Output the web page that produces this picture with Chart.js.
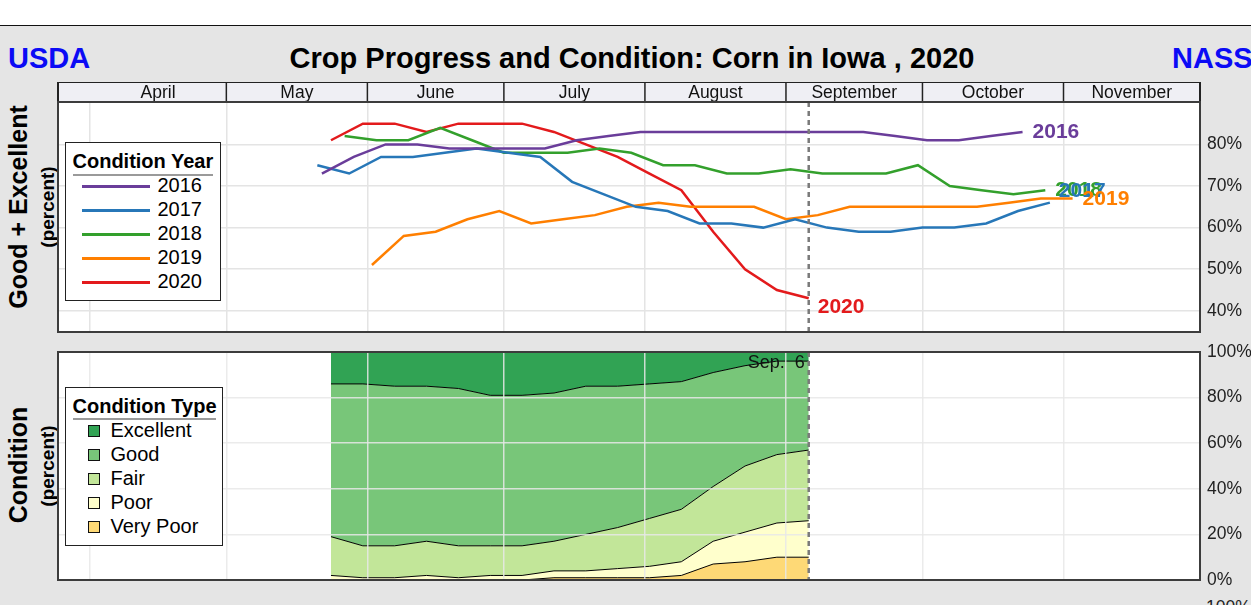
<!DOCTYPE html>
<html>
<head>
<meta charset="utf-8">
<title>Crop Progress and Condition: Corn in Iowa , 2020</title>
<script src="https://cdn.jsdelivr.net/npm/chart.js@4.4.1/dist/chart.umd.min.js"></script>
<style>
  html, body { margin: 0; padding: 0; }
  body { width: 1251px; height: 605px; overflow: hidden; position: relative; background: #e5e5e5;
         font-family: "Liberation Sans", Arial, sans-serif; color: #000; }
  .abs { position: absolute; white-space: nowrap; }
  #whiteband { left: 0; top: 0; width: 1251px; height: 25px; background: #fff; border-bottom: 1.5px solid #111; }
  .head { font-weight: bold; font-size: 29px; line-height: 29px; top: 43.5px; }
  .blue { color: #0b0bf5; }
  .vtitle { transform: translate(-50%, -50%) rotate(-90deg); font-weight: bold; }
  .legend { background: #fff; border: 1.5px solid #222; box-sizing: border-box; }
  .legend .ttl { font-weight: bold; font-size: 20px; line-height: 20px; }
  .legend .rule { height: 2px; background: #9a9a9a; }
  .legend .lbl { font-size: 20px; line-height: 20px; }
  canvas { position: absolute; left: 0; }
</style>
</head>
<body>
<div class="abs" id="whiteband"></div>
<div class="abs head blue" style="left:8px;">USDA</div>
<div class="abs head" style="left:0; width:1264px; text-align:center;">Crop Progress and Condition: Corn in Iowa , 2020</div>
<div class="abs head blue" style="left:1172px;">NASS</div>

<div class="abs vtitle" style="left:18px; top:207px; font-size:25px; line-height:25px;">Good + Excellent</div>
<div class="abs vtitle" style="left:47px; top:207px; font-size:19px; line-height:19px;">(percent)</div>
<div class="abs vtitle" style="left:18px; top:465px; font-size:25px; line-height:25px;">Condition</div>
<div class="abs vtitle" style="left:47px; top:466px; font-size:19px; line-height:19px;">(percent)</div>

<canvas id="topChart" width="1251" height="260" style="top:82px;"></canvas>
<canvas id="bottomChart" width="1251" height="252" style="top:340px;"></canvas>

<div class="abs legend" id="legendYear" style="left:65px; top:142px; width:156px; height:159px;"></div>
<div class="abs legend" id="legendType" style="left:65px; top:387px; width:158px; height:159px;"></div>

<div class="abs" style="left:1206px; top:599px; font-size:17.5px; line-height:17.5px; color:#222;">100%</div>

<script>
// months shown in the header band
const monthNames = ['April', 'May', 'June', 'July', 'August', 'September', 'October', 'November'];
const monthDays = [30, 31, 30, 31, 31, 30, 31, 30];
const monthShort = ['Apr.', 'May', 'Jun.', 'Jul.', 'Aug.', 'Sep.', 'Oct.', 'Nov.'];

// good + excellent (%) by week ending date
const years = ['2016', '2017', '2018', '2019', '2020'];

const dates2016 = ['5/22', '5/29', '6/5', '6/12', '6/19', '6/26', '7/3', '7/10', '7/17', '7/24', '7/31', '8/7',
  '8/14', '8/21', '8/28', '9/4', '9/11', '9/18', '9/25', '10/2', '10/9', '10/16', '10/23'];
const ge2016 = [73, 77, 80, 80, 79, 79, 79, 79, 81, 82, 83, 83, 83, 83, 83, 83, 83, 83, 82, 81, 81, 82, 83];

const dates2017 = ['5/21', '5/28', '6/4', '6/11', '6/18', '6/25', '7/2', '7/9', '7/16', '7/23', '7/30', '8/6',
  '8/13', '8/20', '8/27', '9/3', '9/10', '9/17', '9/24', '10/1', '10/8', '10/15', '10/22', '10/29'];
const ge2017 = [75, 73, 77, 77, 78, 79, 78, 77, 71, 68, 65, 64, 61, 61, 60, 62, 60, 59, 59, 60, 60, 61, 64, 66];

const dates2018 = ['5/27', '6/3', '6/10', '6/17', '6/24', '7/1', '7/8', '7/15', '7/22', '7/29', '8/5', '8/12',
  '8/19', '8/26', '9/2', '9/9', '9/16', '9/23', '9/30', '10/7', '10/14', '10/21', '10/28'];
const ge2018 = [82, 81, 81, 84, 81, 78, 78, 78, 79, 78, 75, 75, 73, 73, 74, 73, 73, 73, 75, 70, 69, 68, 69];

const dates2019 = ['6/2', '6/9', '6/16', '6/23', '6/30', '7/7', '7/14', '7/21', '7/28', '8/4', '8/11', '8/18',
  '8/25', '9/1', '9/8', '9/15', '9/22', '9/29', '10/6', '10/13', '10/20', '10/27', '11/3'];
const ge2019 = [51, 58, 59, 62, 64, 61, 62, 63, 65, 66, 65, 65, 65, 62, 63, 65, 65, 65, 65, 65, 66, 67, 67];

const dates2020 = ['5/24', '5/31', '6/7', '6/14', '6/21', '6/28', '7/5', '7/12', '7/19', '7/26', '8/2', '8/9',
  '8/16', '8/23', '8/30', '9/6'];
const ge2020 = [81, 85, 85, 83, 85, 85, 85, 83, 80, 77, 73, 69, 59, 50, 45, 43];

// 2020 condition breakdown (%)
const conditionTypes = ['Excellent', 'Good', 'Fair', 'Poor', 'Very Poor'];
const excellent = [14, 14, 15, 15, 16, 19, 19, 18, 15, 15, 14, 13, 9, 6, 4, 4];
const good = [67, 71, 70, 68, 69, 66, 66, 65, 65, 62, 59, 56, 50, 44, 41, 39];
const fair = [17, 14, 14, 15, 14, 13, 13, 13, 16, 18, 21, 23, 24, 29, 30, 31];
const poor = [2, 1, 1, 2, 1, 2, 2, 3, 3, 4, 5, 6, 10, 13, 15, 16];
const veryPoor = [0, 0, 0, 0, 0, 0, 0, 1, 1, 1, 1, 2, 7, 8, 10, 10];

const topTicks = [40, 50, 60, 70, 80];
const bottomTicks = [0, 20, 40, 60, 80, 100];

// colours
const yearColors = ['#6a3d9a', '#2777b8', '#33a02c', '#ff7f00', '#e31a1c'];
const typeColors = ['#31a354', '#78c679', '#c2e699', '#ffffcc', '#fed976'];

const FONT = '"Liberation Sans", Arial, sans-serif';

// day number counted from April 1
const dayOf = (md) => {
  const [m, d] = md.split('/').map(Number);
  let n = 0;
  for (let i = 0; i < m - 4; i++) n += monthDays[i];
  return n + d - 1;
};
const monthStarts = [];
let acc = 0;
monthDays.forEach(n => { monthStarts.push(acc); acc += n; });
const xMin = -7;
const xMax = acc;

const toPoints = (ds, vs) => ds.map((d, i) => ({ x: dayOf(d), y: vs[i] }));
const lastDate = dates2020[dates2020.length - 1];
const lastDay = dayOf(lastDate);

// frame, month band, dashed "current week" line, line-end labels
const panelDecor = {
  id: 'panelDecor',
  beforeDraw(chart) {
    const a = chart.chartArea;
    const ctx = chart.ctx;
    ctx.save();
    ctx.fillStyle = '#fff';
    ctx.fillRect(a.left, a.top, a.right - a.left, a.bottom - a.top);
    ctx.restore();
  },
  afterDatasetsDraw(chart, args, opts) {
    if (!opts.endLabels) return;
    const ctx = chart.ctx;
    const xs = chart.scales.x, ys = chart.scales.y;
    ctx.save();
    ctx.font = 'bold 21px ' + FONT;
    ctx.textBaseline = 'middle';
    ctx.textAlign = 'left';
    opts.labelOrder.forEach(i => {
      const data = chart.data.datasets[i].data;
      const p = data[data.length - 1];
      ctx.fillStyle = chart.data.datasets[i].borderColor;
      ctx.fillText(chart.data.datasets[i].label,
        xs.getPixelForValue(p.x) + opts.offsets[i][0],
        ys.getPixelForValue(p.y) + opts.offsets[i][1]);
    });
    ctx.restore();
  },
  afterDraw(chart, args, opts) {
    const a = chart.chartArea;
    const ctx = chart.ctx;
    const xs = chart.scales.x;
    const dx = xs.getPixelForValue(lastDay);
    ctx.save();

    if (opts.dateLabel) {
      const [m, d] = lastDate.split('/').map(Number);
      ctx.font = '18px ' + FONT;
      ctx.fillStyle = '#111';
      ctx.textAlign = 'right';
      ctx.textBaseline = 'middle';
      ctx.fillText(monthShort[m - 4] + '  ' + d, dx - 4, a.top + 11);
    }

    ctx.strokeStyle = '#7a7a7a';
    ctx.lineWidth = 2.5;
    ctx.setLineDash([5, 4]);
    ctx.beginPath();
    ctx.moveTo(dx, a.top);
    ctx.lineTo(dx, a.bottom);
    ctx.stroke();
    ctx.setLineDash([]);

    if (opts.monthBand) {
      const top = a.top - 20;
      ctx.fillStyle = '#efeff4';
      ctx.fillRect(a.left, top, a.right - a.left, 20);
      ctx.font = '17.5px ' + FONT;
      ctx.fillStyle = '#111';
      ctx.textAlign = 'center';
      ctx.textBaseline = 'alphabetic';
      ctx.strokeStyle = '#222';
      ctx.lineWidth = 1.5;
      monthNames.forEach((name, i) => {
        const s = Math.max(a.left, xs.getPixelForValue(monthStarts[i]));
        const e = Math.min(a.right, xs.getPixelForValue(monthStarts[i] + monthDays[i]));
        ctx.fillText(name, (s + e) / 2, top + 16);
        if (i > 0) {
          ctx.beginPath();
          ctx.moveTo(s, top);
          ctx.lineTo(s, a.top);
          ctx.stroke();
        }
      });
      ctx.lineWidth = 2;
      ctx.strokeRect(a.left, top, a.right - a.left, 20);
    }

    ctx.strokeStyle = '#3c3c3c';
    ctx.lineWidth = 2;
    ctx.strokeRect(a.left, a.top, a.right - a.left, a.bottom - a.top);
    ctx.restore();
  }
};

const xScale = (gridZ) => ({
  type: 'linear',
  min: xMin,
  max: xMax,
  afterBuildTicks: (s) => { s.ticks = monthStarts.map(v => ({ value: v })); },
  afterFit: (s) => { s.height = 0; s.paddingLeft = 0; s.paddingRight = 0; },
  ticks: { display: false },
  grid: { color: gridZ ? 'rgba(232,232,232,0.85)' : '#e4e4e4', lineWidth: 1.5, drawTicks: false, z: gridZ },
  border: { display: false }
});

const yScale = (min, max, ticks, gridZ, stacked) => ({
  type: 'linear',
  position: 'right',
  min, max, stacked,
  afterBuildTicks: (s) => { s.ticks = ticks.map(v => ({ value: v })); },
  // fixed axis width, and no extra room reserved for the end labels
  afterFit: (s) => { s.width = 51; s.paddingTop = 0; s.paddingBottom = 0; },
  ticks: { color: '#222', padding: 7, font: { size: 17.5, family: FONT }, callback: v => v + '%' },
  grid: { color: gridZ ? 'rgba(232,232,232,0.85)' : '#e4e4e4', lineWidth: 1.5, drawTicks: false, z: gridZ },
  border: { display: false }
});

const yearDates = [dates2016, dates2017, dates2018, dates2019, dates2020];
const yearValues = [ge2016, ge2017, ge2018, ge2019, ge2020];

new Chart(document.getElementById('topChart'), {
  type: 'line',
  data: {
    datasets: years.map((y, i) => ({
      label: y,
      data: toPoints(yearDates[i], yearValues[i]),
      borderColor: yearColors[i],
      borderWidth: 2.5,
      pointRadius: 0,
      tension: 0,
      fill: false
    }))
  },
  options: {
    responsive: false,
    animation: false,
    devicePixelRatio: 1,
    layout: { padding: { left: 58, top: 20, right: 0, bottom: 10 } },
    scales: { x: xScale(0), y: yScale(34.9, 90.2, topTicks, 0, false) },
    plugins: {
      legend: { display: false },
      tooltip: { enabled: false },
      panelDecor: {
        monthBand: true,
        endLabels: true,
        labelOrder: [0, 2, 1, 3, 4],
        offsets: [[10, 0], [9, -11], [10, 0], [10, 1], [9, 9]]
      }
    }
  },
  plugins: [panelDecor]
});

// stacked from the bottom: very poor -> excellent
const stackValues = [veryPoor, poor, fair, good, excellent];
const stackNames = conditionTypes.slice().reverse();
const stackColors = typeColors.slice().reverse();

new Chart(document.getElementById('bottomChart'), {
  type: 'line',
  data: {
    datasets: stackValues.map((vals, i) => ({
      label: stackNames[i],
      data: toPoints(dates2020, vals),
      borderColor: '#000',
      borderWidth: 1,
      backgroundColor: stackColors[i],
      pointRadius: 0,
      tension: 0,
      fill: i === 0 ? 'origin' : '-1'
    }))
  },
  options: {
    responsive: false,
    animation: false,
    devicePixelRatio: 1,
    layout: { padding: { left: 58, top: 12, right: 0, bottom: 12 } },
    scales: { x: xScale(1), y: yScale(0, 100, bottomTicks, 1, true) },
    plugins: {
      legend: { display: false },
      tooltip: { enabled: false },
      filler: { propagate: false },
      panelDecor: { dateLabel: true }
    }
  },
  plugins: [panelDecor]
});

// legends
const addEl = (parent, cls, style, text) => {
  const el = document.createElement('div');
  el.className = 'abs ' + cls;
  el.setAttribute('style', style);
  if (text) el.textContent = text;
  parent.appendChild(el);
  return el;
};

const ly = document.getElementById('legendYear');
addEl(ly, 'ttl', 'left:6.5px; top:8px;', 'Condition Year');
addEl(ly, 'rule', 'left:6.5px; top:30.5px; width:140px;');
years.forEach((y, i) => {
  addEl(ly, '', `left:15.5px; top:${41.7 + 24 * i}px; width:68px; height:3px; background:${yearColors[i]};`);
  addEl(ly, 'lbl', `left:91.5px; top:${32.3 + 24 * i}px;`, y);
});

const lt = document.getElementById('legendType');
addEl(lt, 'ttl', 'left:6.5px; top:8px;', 'Condition Type');
addEl(lt, 'rule', 'left:6.5px; top:29.8px; width:143px;');
conditionTypes.forEach((t, i) => {
  addEl(lt, '', `left:21.8px; top:${36.5 + 24 * i}px; width:12px; height:12px; box-sizing:border-box; border:1px solid #111; background:${typeColors[i]};`);
  addEl(lt, 'lbl', `left:44.5px; top:${31.9 + 24 * i}px;`, t);
});
</script>
</body>
</html>
